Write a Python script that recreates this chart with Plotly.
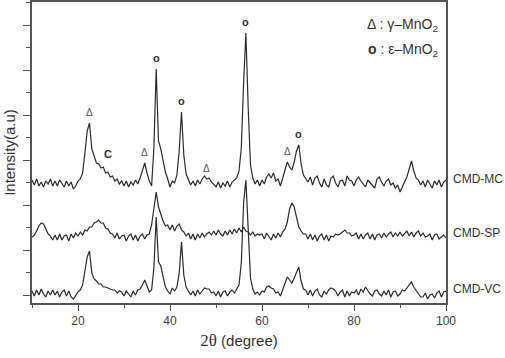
import numpy as np
import plotly.graph_objects as go

# 2-theta sampling (degree)
two_theta = np.arange(10, 100.5, 0.5)

# intensities above each pattern's own baseline (a.u.)
cmd_mc = [3, -2, 4, -3, 1, -4, 2, -1, 4, -3,
          2, -3, 3, -1, -4, 2, -3, 1, -6, -3,
          2, 4, 10, 30, 52, 60, 34, 27, 20, 19,
          15, 16, 10, 11, 6, 7, 2, 4, -1, 2,
          -3, 2, -4, 1, -2, 3, -1, 5, 12, 20,
          10, 2, -3, 35, 114, 42, 34, 22, 11, 4,
          -4, 2, 0, 8, 32, 71, 28, 9, 3, -2,
          2, -3, 3, -1, 4, 7, 4, 5, 1, -2,
          -4, 1, -5, 0, -3, 2, -4, 1, 3, 5,
          12, 35, 100, 150, 75, 18, 5, -1, 3, -3,
          3, -1, 6, 9, 5, 10, 2, 4, -3, 5,
          15, 21, 16, 13, 21, 32, 38, 19, 8, 5,
          1, 6, -2, 5, 7, 0, -4, 4, -2, -4,
          5, 7, 0, -4, 2, 3, -3, 7, 3, 2,
          -3, 3, 6, 2, -1, -4, 3, 0, -2, -5,
          4, 6, 1, -3, 2, 4, -2, 0, -5, -2,
          -9, -4, 2, 6, 14, 22, 12, 5, 3, -2,
          2, -4, 3, -1, -5, 2, -2, 3, -4, 1,
          3]

cmd_sp = [0, 2, 6, 11, 14, 13, 8, 3, 1, -3,
          2, -3, 3, -3, 1, 2, -4, 3, -1, 4,
          1, 5, 2, 7, 6, 10, 10, 14, 15, 17,
          14, 14, 9, 8, 4, 3, -1, 4, -2, 1,
          2, -4, 1, 3, -3, 2, -4, 1, 3, -2,
          2, 3, 12, 30, 45, 30, 22, 16, 11, 12,
          7, 12, 6, 11, 13, 7, 5, 1, 4, -2,
          3, -3, 3, -1, 4, 0, 3, 5, 2, 6,
          2, 7, 3, 1, 6, 2, 7, 3, 8, 4,
          9, 5, 10, 6, 5, 2, 5, 1, 3, 2,
          3, -2, 4, 0, -3, 3, -1, 4, 0, 5,
          8, 15, 28, 34, 30, 20, 10, 6, 3, 3,
          -2, 3, -3, 2, -4, 1, 3, -3, 2, -4,
          1, 0, 3, 2, 3, 5, 7, 4, 4, 1,
          2, 4, -2, 3, -2, 2, 4, -2, 3, -3,
          2, 3, -1, 4, 0, 3, 5, 0, 4, 1,
          5, 1, 4, 6, 1, 5, 0, 4, 6, 1,
          4, 0, 1, 3, -3, 2, 3, -2, 0, 2,
          -1]

cmd_vc = [2, -3, 3, -2, 4, -1, -4, 2, -2, 3,
          -2, 2, -4, 1, 3, -3, 2, -4, -6, -2,
          1, 3, 8, 22, 36, 42, 20, 14, 12, 9,
          9, 6, 6, 5, 4, 3, 3, 0, 2, 1,
          -3, 2, -1, -4, 2, -2, 3, 4, 8, 13,
          7, 1, 3, 25, 76, 31, 27, 15, 6, 2,
          -1, 5, 2, 6, 20, 51, 18, 6, 2, -2,
          2, -3, 3, -1, 2, 5, 4, 4, 0, 1,
          -3, 2, -4, 1, 2, -3, 1, 3, 0, 4,
          8, 30, 90, 113, 60, 15, 4, -1, 1, -2,
          2, 1, 6, 7, 5, 4, 0, 1, -3, 3,
          10, 16, 13, 10, 15, 20, 26, 12, 4, 3,
          -2, 3, -3, 2, 4, -2, -4, 2, -1, 3,
          5, 4, 2, -3, 1, 3, -4, 2, -3, 1,
          0, 3, -2, 4, 1, 6, 2, -1, -3, 2,
          3, -1, -3, 2, -2, 3, -4, 1, 2, -3,
          -1, 3, 2, 5, 9, 11, 6, 3, -1, -4,
          -4, 0, -6, -2, -1, -5, 0, 2, -4, 1,
          2]

sample_names = ["CMD-MC", "CMD-SP", "CMD-VC"]
stack_offsets = [112, 58, 2]

# phase marks on the CMD-MC pattern
gamma_peaks = [22.5, 34.5, 48.0, 65.5]
eps_peaks = [37.0, 42.5, 56.5, 68.0]
carbon_peak = 26.5

line_color = "#2b2b2b"
text_color = "#333333"

fig = go.Figure()
for name, vals, off in zip(sample_names, [cmd_mc, cmd_sp, cmd_vc], stack_offsets):
    fig.add_trace(go.Scatter(x=two_theta, y=np.array(vals) + off, mode="lines",
                             line=dict(color=line_color, width=1.2), name=name,
                             showlegend=False))
    fig.add_annotation(x=1.012, xref="paper", xanchor="left", y=off + 4,
                       text=name, showarrow=False,
                       font=dict(size=12, color=text_color))


def mc_height(x):
    return cmd_mc[int(round((x - 10) / 0.5))] + stack_offsets[0]


for x in gamma_peaks:
    fig.add_annotation(x=x, y=mc_height(x), yshift=11, text="Δ", showarrow=False,
                       font=dict(size=10, color="#555555"))
for x in eps_peaks:
    fig.add_annotation(x=x, y=mc_height(x), yshift=11, text="<b>o</b>", showarrow=False,
                       font=dict(size=11, color=text_color))
fig.add_annotation(x=carbon_peak, y=mc_height(carbon_peak), yshift=18, text="<b>C</b>",
                   showarrow=False, font=dict(size=11, color=text_color))

fig.add_annotation(x=0.985, y=0.925, xref="paper", yref="paper", xanchor="right",
                   yanchor="middle", text="Δ : γ–MnO<sub>2</sub>", showarrow=False,
                   font=dict(size=14, color=text_color))
fig.add_annotation(x=0.985, y=0.84, xref="paper", yref="paper", xanchor="right",
                   yanchor="middle", text="<b>o</b> : ε–MnO<sub>2</sub>", showarrow=False,
                   font=dict(size=14, color=text_color))

fig.update_layout(
    width=505, height=358,
    margin=dict(l=32, r=59, t=2, b=55),
    plot_bgcolor="white", paper_bgcolor="white",
    font=dict(family="Arial, Liberation Sans", color=text_color),
    xaxis=dict(range=[10, 100], tick0=0, dtick=20, ticks="outside", ticklen=6,
               tickcolor="#555555", showline=True, linecolor="#555555", linewidth=1.5,
               mirror=True, showgrid=False, zeroline=False, automargin=False,
               tickfont=dict(size=12, color="#444444"),
               minor=dict(dtick=10, ticks="outside", ticklen=3, tickcolor="#555555"),
               title=dict(text="<span style='font-family:Liberation Serif;font-size:17px'>2θ</span> (degree)",
                          font=dict(size=15, color=text_color), standoff=8)),
    yaxis=dict(range=[-8, 293], tick0=0, dtick=45, ticks="outside", ticklen=7,
               tickcolor="#555555", showline=True, linecolor="#555555", linewidth=1.5,
               mirror=True, showgrid=False, zeroline=False, showticklabels=False,
               automargin=False,
               minor=dict(dtick=22.5, ticks="outside", ticklen=4, tickcolor="#555555"),
               title=dict(text="Intensity(a.u)", font=dict(size=15, color=text_color),
                          standoff=4)),
)

fig.write_html("out.html", config={"displayModeBar": False},
               post_script="document.body.style.margin='0';")
